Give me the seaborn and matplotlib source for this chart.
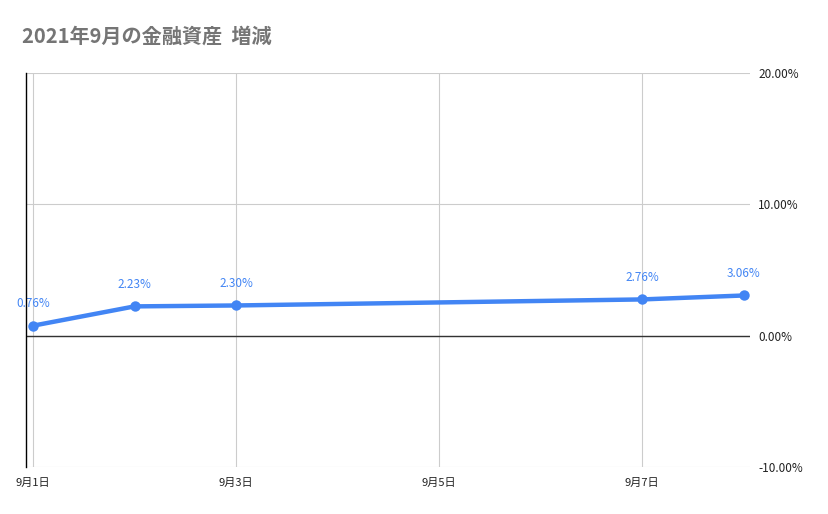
import pandas as pd
import matplotlib
matplotlib.use("Agg")
import matplotlib.pyplot as plt
import seaborn as sns

# data
dates = ["2021-09-01", "2021-09-02", "2021-09-03", "2021-09-07", "2021-09-08"]
change_pct = [0.76, 2.23, 2.30, 2.76, 3.06]
tick_dates = ["2021-09-01", "2021-09-03", "2021-09-05", "2021-09-07"]
tick_labels = ["9月1日", "9月3日", "9月5日", "9月7日"]
y_ticks = [-10, 0, 10, 20]

df = pd.DataFrame({"date": pd.to_datetime(dates), "change": change_pct})

sns.set_theme(style="white")
plt.rcParams['font.family'] = ['Noto Sans CJK JP', 'DejaVu Sans']

fig = plt.figure(figsize=(8.29, 5.14), dpi=100)
ax = fig.add_axes([0.0309, 0.0914, 0.8738, 0.7666])

blue = "#4285F4"
sns.lineplot(data=df, x="date", y="change", ax=ax, color=blue, linewidth=3.2,
             marker="o", markersize=7.5, markeredgewidth=0, zorder=3)

# data labels
for d, v in zip(df["date"], df["change"]):
    ax.annotate(f"{v:.2f}%", xy=(d, v), xytext=(0, 16), textcoords="offset points",
                ha="center", va="center", fontsize=8.5, color=blue, zorder=2,
                arrowprops=dict(arrowstyle="-", color="#e0e0e0", lw=0.8,
                                shrinkA=6, shrinkB=6))

# axes
start = pd.Timestamp("2021-09-01") - pd.Timedelta(hours=1.75)
end = pd.Timestamp("2021-09-08") + pd.Timedelta(hours=1.5)
ax.set_xlim(start, end)
ax.set_ylim(-10, 20)
ax.set_xticks(pd.to_datetime(tick_dates))
ax.set_xticklabels(tick_labels, fontsize=8, color="#222222")
ax.yaxis.tick_right()
ax.set_yticks(y_ticks)
ax.set_yticklabels([f"{t:.2f}%" for t in y_ticks], fontsize=8.5, color="#222222")
ax.tick_params(axis="both", length=0)
ax.tick_params(axis="x", pad=8)
ax.tick_params(axis="y", pad=6)
ax.set_xlabel("")
ax.set_ylabel("")

ax.grid(True, color="#cccccc", linewidth=0.8)
ax.set_axisbelow(True)
ax.axhline(0, color="#333333", linewidth=1, zorder=1)
for s in ["top", "right", "bottom"]:
    ax.spines[s].set_visible(False)
ax.spines["left"].set_color("#000000")
ax.spines["left"].set_linewidth(1)

fig.text(0.0265, 0.929, "2021年9月の金融資産  増減", fontsize=14.5, fontweight="bold",
         color="#757575", ha="left", va="center")

fig.savefig("out.png", dpi=100, facecolor="white")
